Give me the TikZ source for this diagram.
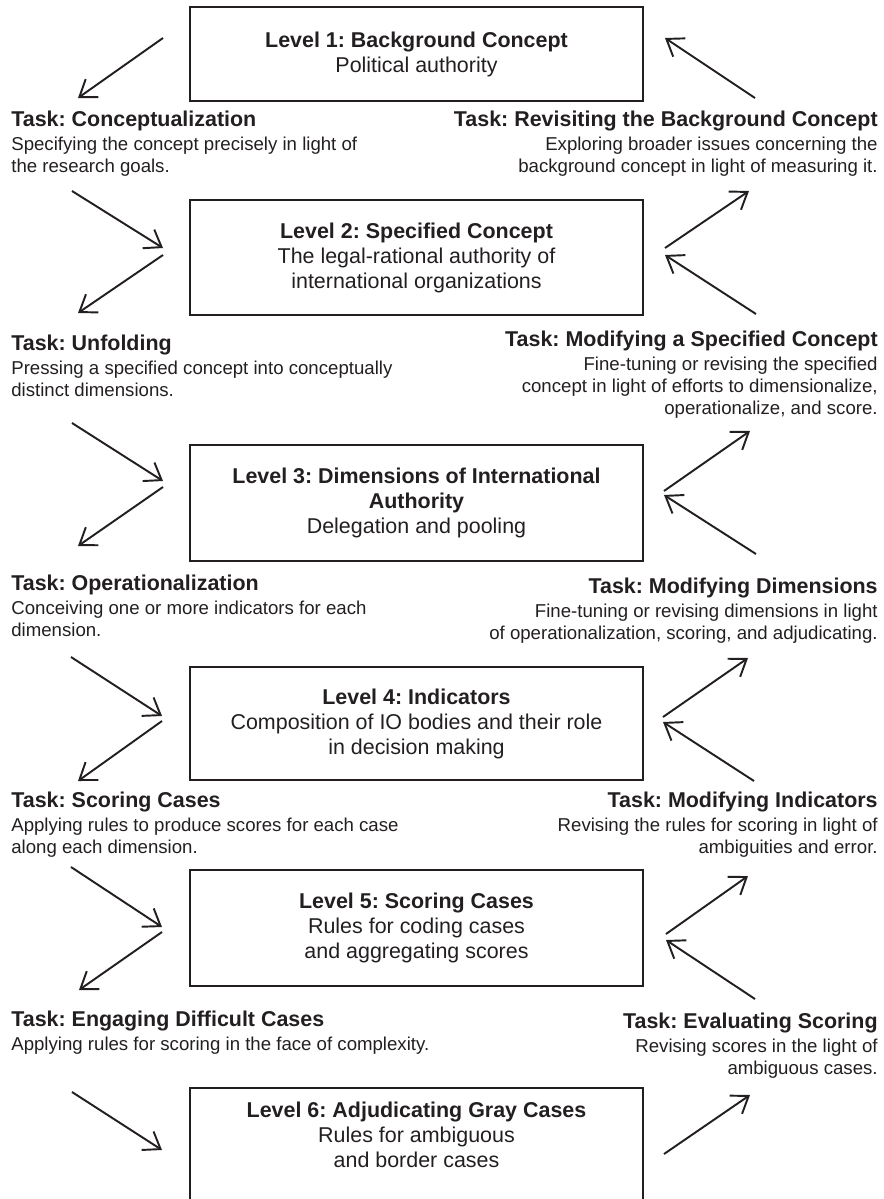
\documentclass[tikz,border=0pt]{standalone}
\usepackage{fontspec}
\setmainfont{Liberation Sans}
\frenchspacing
\usepackage{tikz}
\usetikzlibrary{arrows.meta,positioning}
\definecolor{myink}{RGB}{35,31,32}
\newcommand{\tasktitle}[1]{{\fontsize{12.2}{14.2}\selectfont\bfseries #1}}

\begin{document}
\begin{tikzpicture}[>={Straight Barb[length=3.1mm,width=4.4mm]},every node/.style={text=myink}]
\tikzstyle{lvl}=[draw=myink,line width=1.4pt,minimum width=9.06cm,align=center,inner sep=0,font=\fontsize{12.2}{14.2}\selectfont]
\tikzstyle{task}=[inner sep=0,font=\fontsize{10.6}{12.5}\selectfont]
\tikzstyle{lnk}=[->,draw=myink,line width=1.1pt]
\useasboundingbox (0,0) rectangle (17.68,-23.98);
% levels
\node[lvl,minimum height=1.88cm] (lv1) at (8.33,-1.08)  {\textbf{Level 1: Background Concept}\\Political authority};
\node[lvl,minimum height=2.30cm] (lv2) at (8.33,-5.15)  {\textbf{Level 2: Specified Concept}\\The legal-rational authority of\\international organizations};
\node[lvl,minimum height=2.32cm] (lv3) at (8.33,-10.06) {\textbf{Level 3: Dimensions of International}\\\textbf{Authority}\\Delegation and pooling};
\node[lvl,minimum height=2.26cm] (lv4) at (8.33,-14.47) {\textbf{Level 4: Indicators}\\Composition of IO bodies and their role\\in decision making};
\node[lvl,minimum height=2.32cm] (lv5) at (8.33,-18.56) {\textbf{Level 5: Scoring Cases}\\Rules for coding cases\\and aggregating scores};
\node[lvl,minimum height=2.90cm,anchor=north] (lv6) at (8.33,-21.74) {};
\node[lvl,draw=none] (lv6txt) at (8.33,-22.70) {\textbf{Level 6: Adjudicating Gray Cases}\\Rules for ambiguous\\and border cases};
% tasks, left
\node[task,anchor=north west,align=left] (tl1) at (0.22,-2.21)  {\tasktitle{Task: Conceptualization}\\[1pt]Specifying the concept precisely in light of\\the research goals.};
\node[task,anchor=north west,align=left] (tl2) at (0.22,-6.69)  {\tasktitle{Task: Unfolding}\\[1pt]Pressing a specified concept into conceptually\\distinct dimensions.};
\node[task,anchor=north west,align=left] (tl3) at (0.22,-11.49) {\tasktitle{Task: Operationalization}\\[1pt]Conceiving one or more indicators for each\\dimension.};
\node[task,anchor=north west,align=left] (tl4) at (0.22,-15.83) {\tasktitle{Task: Scoring Cases}\\[1pt]Applying rules to produce scores for each case\\along each dimension.};
\node[task,anchor=north west,align=left] (tl5) at (0.22,-20.21) {\tasktitle{Task: Engaging Difficult Cases}\\[1pt]Applying rules for scoring in the face of complexity.};
% tasks, right
\node[task,anchor=north east,align=right] (tr1) at (17.56,-2.21)  {\tasktitle{Task: Revisiting the Background Concept}\\[1pt]Exploring broader issues concerning the\\background concept in light of measuring it.};
\node[task,anchor=north east,align=right] (tr2) at (17.56,-6.61)  {\tasktitle{Task: Modifying a Specified Concept}\\[1pt]Fine-tuning or revising the specified\\concept in light of efforts to dimensionalize,\\operationalize, and score.};
\node[task,anchor=north east,align=right] (tr3) at (17.56,-11.55) {\tasktitle{Task: Modifying Dimensions}\\[1pt]Fine-tuning or revising dimensions in light\\of operationalization, scoring, and adjudicating.};
\node[task,anchor=north east,align=right] (tr4) at (17.56,-15.83) {\tasktitle{Task: Modifying Indicators}\\[1pt]Revising the rules for scoring in light of\\ambiguities and error.};
\node[task,anchor=north east,align=right] (tr5) at (17.56,-20.25) {\tasktitle{Task: Evaluating Scoring}\\[1pt]Revising scores in the light of\\ambiguous cases.};
% arrow ends, left column
\coordinate (a1s) at (3.26,-0.76);  \coordinate (a1e) at (1.56,-1.96);
\coordinate (b2s) at (1.44,-3.82);  \coordinate (b2e) at (3.26,-4.96);
\coordinate (a2s) at (3.26,-5.10);  \coordinate (a2e) at (1.56,-6.26);
\coordinate (b3s) at (1.44,-8.46);  \coordinate (b3e) at (3.26,-9.62);
\coordinate (a3s) at (3.26,-9.74);  \coordinate (a3e) at (1.56,-10.92);
\coordinate (b4s) at (1.42,-13.14); \coordinate (b4e) at (3.24,-14.32);
\coordinate (a4s) at (3.24,-14.42); \coordinate (a4e) at (1.56,-15.62);
\coordinate (b5s) at (1.42,-17.34); \coordinate (b5e) at (3.24,-18.54);
\coordinate (a5s) at (3.24,-18.64); \coordinate (a5e) at (1.58,-19.80);
\coordinate (b6s) at (1.44,-21.84); \coordinate (b6e) at (3.24,-23.00);
% arrow ends, right column
\coordinate (c1s) at (15.10,-1.96);  \coordinate (c1e) at (13.30,-0.76);
\coordinate (d2s) at (13.30,-4.96);  \coordinate (d2e) at (14.98,-3.82);
\coordinate (c2s) at (15.12,-6.28);  \coordinate (c2e) at (13.30,-5.10);
\coordinate (d3s) at (13.28,-9.82);  \coordinate (d3e) at (15.00,-8.62);
\coordinate (c3s) at (15.12,-11.08); \coordinate (c3e) at (13.28,-9.90);
\coordinate (d4s) at (13.26,-14.34); \coordinate (d4e) at (14.96,-13.16);
\coordinate (c4s) at (15.08,-15.62); \coordinate (c4e) at (13.26,-14.44);
\coordinate (d5s) at (13.32,-18.68); \coordinate (d5e) at (14.96,-17.52);
\coordinate (c5s) at (15.10,-19.98); \coordinate (c5e) at (13.32,-18.80);
\coordinate (d6s) at (13.28,-23.08); \coordinate (d6e) at (15.00,-21.90);
% arrows
\draw[lnk] (a1s)--(a1e); \draw[lnk] (b2s)--(b2e); \draw[lnk] (a2s)--(a2e);
\draw[lnk] (b3s)--(b3e); \draw[lnk] (a3s)--(a3e); \draw[lnk] (b4s)--(b4e);
\draw[lnk] (a4s)--(a4e); \draw[lnk] (b5s)--(b5e); \draw[lnk] (a5s)--(a5e);
\draw[lnk] (b6s)--(b6e);
\draw[lnk] (c1s)--(c1e); \draw[lnk] (d2s)--(d2e); \draw[lnk] (c2s)--(c2e);
\draw[lnk] (d3s)--(d3e); \draw[lnk] (c3s)--(c3e); \draw[lnk] (d4s)--(d4e);
\draw[lnk] (c4s)--(c4e); \draw[lnk] (d5s)--(d5e); \draw[lnk] (c5s)--(c5e);
\draw[lnk] (d6s)--(d6e);
\end{tikzpicture}
\end{document}
